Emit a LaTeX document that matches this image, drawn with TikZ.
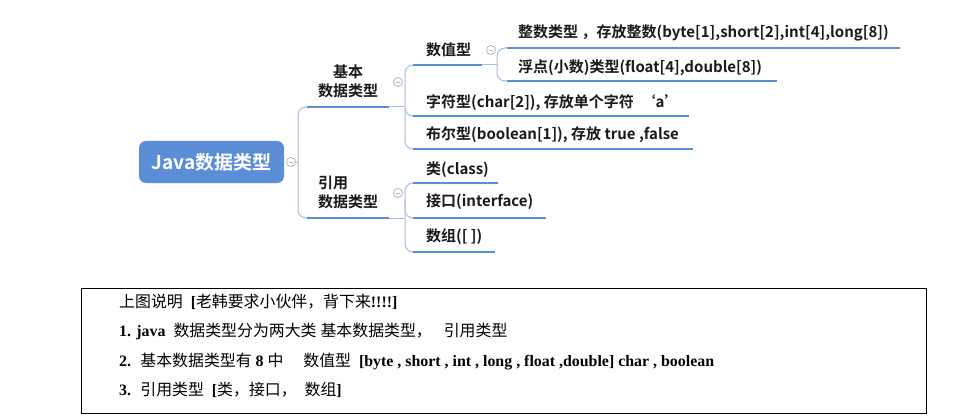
\documentclass[tikz,border=0pt]{standalone}
\usepackage{fontspec}
\setmainfont{Liberation Serif}
\newfontfamily\yhb{Noto Sans CJK SC Bold}
\newfontfamily\zhfont{Noto Sans CJK SC}
\newfontfamily\tmsb{Liberation Serif Bold}
\newcommand\zh[1]{{\zhfont #1}}
\definecolor{xblue}{HTML}{5B8ED6}
\definecolor{xconn}{HTML}{A9BCD8}
\definecolor{xtxt}{HTML}{1A1A1A}
\definecolor{xcirc}{HTML}{AEB6C4}
\tikzset{
  rootbox/.style={fill=xblue, rounded corners=7pt, minimum width=145pt, minimum height=42pt,
    inner sep=0pt, text=white, font=\yhb\fontsize{19}{22}\selectfont},
  lbl/.style={inner sep=0pt, text=xtxt, font=\yhb\fontsize{15}{19}\selectfont},
  uline/.style={draw=xblue, line width=2.8pt},
  conn/.style={draw=xconn, line width=1pt, rounded corners=8pt},
  fold/.style={circle, draw=xcirc, fill=white, line width=0.8pt, minimum size=9pt, inner sep=0pt,
    path picture={\draw[xcirc, line width=0.8pt] ([xshift=-2.2pt]path picture bounding box.center) -- ([xshift=2.2pt]path picture bounding box.center);}},
  note/.style={inner sep=0pt, anchor=west, text=black, font=\tmsb\fontsize{15.9}{18}\selectfont}
}
\begin{document}
\begin{tikzpicture}[x=1pt,y=-1pt]
\useasboundingbox (0,0) rectangle (974,417);
\fill[white] (0,0) rectangle (974,417);

% root
\node[rootbox] (root) at (211.5,162) {Java数据类型};
\node[fold] (c0) at (291,162) {};

% underline coordinates
\coordinate (jba) at (307,107); \coordinate (jbb) at (389,107);
\coordinate (yya) at (307,218); \coordinate (yyb) at (389,218);
\coordinate (szxa) at (413,65); \coordinate (szxb) at (482,65);
\coordinate (zsa) at (507,48); \coordinate (zsb) at (900,48);
\coordinate (fda) at (507,81); \coordinate (fdb) at (777,81);
\coordinate (zfa) at (413,116); \coordinate (zfb) at (689,116);
\coordinate (bea) at (413,149); \coordinate (beb) at (693,149);
\coordinate (lei) at (413,183); \coordinate (leib) at (498,183);
\coordinate (jka) at (413,218); \coordinate (jkb) at (546,218);
\coordinate (sza) at (413,252); \coordinate (szb) at (495,252);

% connectors
\draw[conn] (c0.east) -- (298,162);
\draw[conn] (jba) -- (298,107) -- (298,218) -- (yya);
\draw[conn] (jbb) -- (404,107);
\draw[conn] (szxa) -- (405,65) -- (405,149) -- (bea);
\draw[conn] (405,108) -- (405,116) -- (zfa);
\draw[conn] (yyb) -- (404,218);
\draw[conn] (lei) -- (405,183) -- (405,252) -- (sza);
\draw[conn] (405,200) -- (405,218) -- (jka);
\draw[conn] (szxb) -- (497,65);
\draw[conn] (zsa) -- (497,48) -- (497,81) -- (fda);

% underlines
\draw[uline] (jba) -- (jbb);
\draw[uline] (yya) -- (yyb);
\draw[uline] (szxa) -- (szxb);
\draw[uline] (zsa) -- (zsb);
\draw[uline] (fda) -- (fdb);
\draw[uline] (zfa) -- (zfb);
\draw[uline] (bea) -- (beb);
\draw[uline] (lei) -- (leib);
\draw[uline] (jka) -- (jkb);
\draw[uline] (sza) -- (szb);

% fold circles
\node[fold] (c1) at (398,82) {};
\node[fold] (c2) at (398,193) {};
\node[fold] (c3) at (491,50) {};

% labels
\node[lbl, align=center] (jb) at (348,81.5) {基本\\数据类型};
\node[lbl, align=left, anchor=west] (yy) at (318,192.5) {引用\\数据类型};
\node[lbl, anchor=west] (szx) at (426,50) {数值型};
\node[lbl, anchor=west] (zs) at (518,33) {整数类型 ，存放整数(byte[1],short[2],int[4],long[8])};
\node[lbl, anchor=west] (fd) at (518,68) {浮点(小数)类型(float[4],double[8])};
\node[lbl, anchor=west] (zf) at (426,103) {字符型(char[2]), 存放单个字符 \ ‘a’};
\node[lbl, anchor=west] (be) at (426,135) {布尔型(boolean[1]), 存放 true ,false};
\node[lbl, anchor=west] (cl) at (426,170) {类(class)};
\node[lbl, anchor=west] (jk) at (426,202) {接口(interface)};
\node[lbl, anchor=west] (sz) at (426,237) {数组([ ])};

% note box
\node[draw=black, line width=1pt, minimum width=845pt, minimum height=125pt, inner sep=0pt] (box) at (503.5,350.5) {};
\node[note] (n0) at (119,302) {\zh{上图说明} \ [\zh{老韩要求小伙伴，背下来}!!!!]};
\node[note] (n1) at (119,332) {1. java \ \zh{数据类型分为两大类} \zh{基本数据类型，} \ \ \zh{引用类型}};
\node[note] (n2) at (119,362) {2. \ \zh{基本数据类型有} 8 \zh{中} \quad \zh{数值型} \ [byte , short , int , long , float ,double] char , boolean};
\node[note] (n3) at (119,390) {3. \ \zh{引用类型} \ [\zh{类，接口，} \ \zh{数组}]};
\end{tikzpicture}
\end{document}
